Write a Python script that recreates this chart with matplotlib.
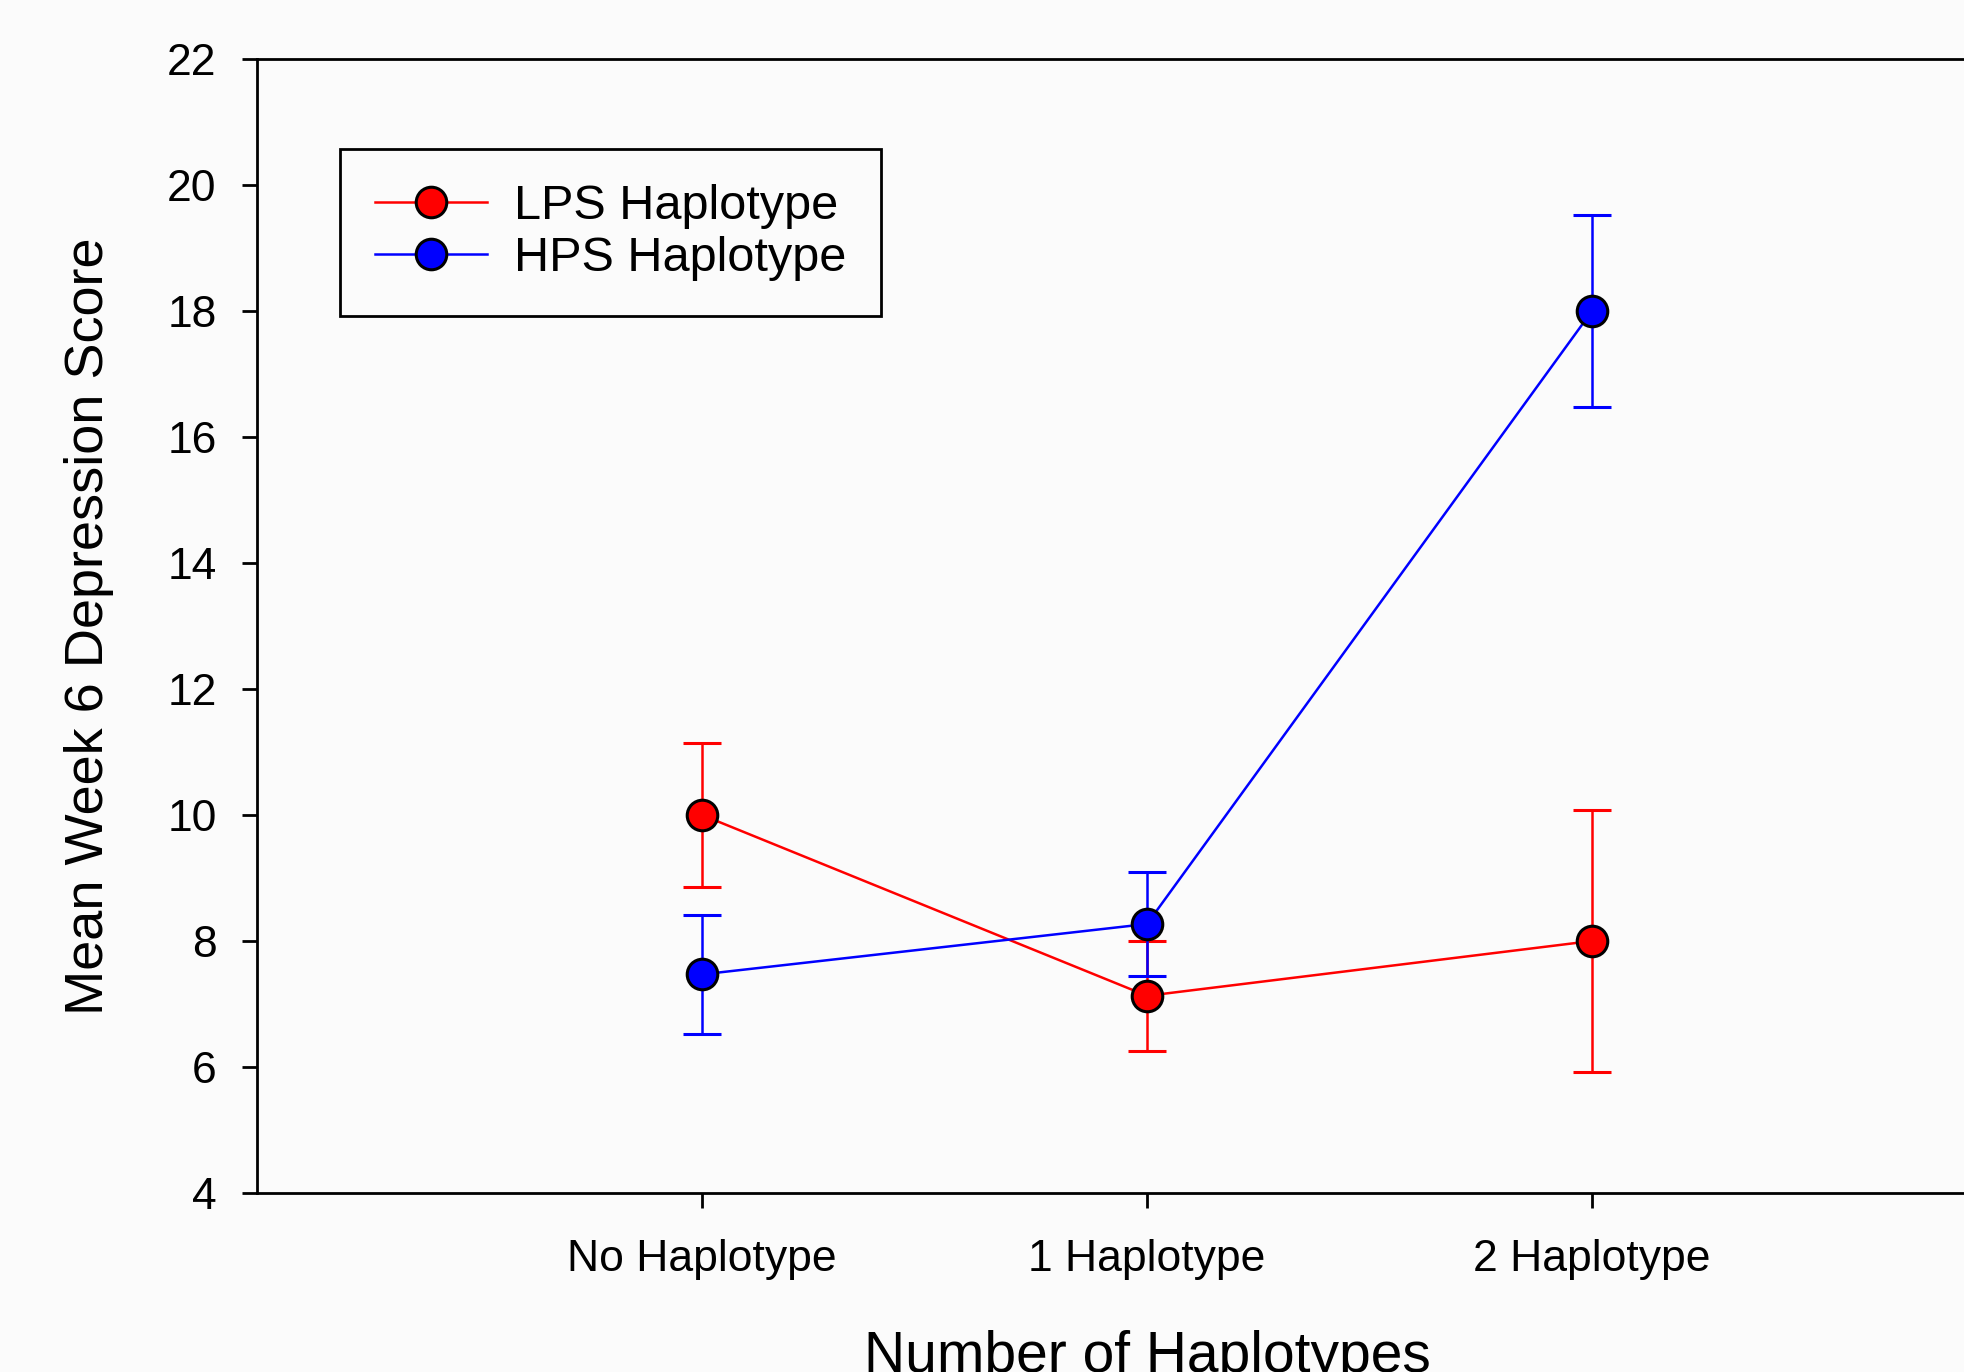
import matplotlib
matplotlib.use("Agg")
import matplotlib.pyplot as plt
from matplotlib.lines import Line2D

categories = ["No Haplotype", "1 Haplotype", "2 Haplotype"]
lps_mean = [10.0, 7.13, 8.0]
lps_err = [1.14, 0.87, 2.08]
hps_mean = [7.47, 8.27, 18.0]
hps_err = [0.95, 0.83, 1.53]
yticks = [4, 6, 8, 10, 12, 14, 16, 18, 20, 22]

plt.rcParams['font.family'] = ['Liberation Sans', 'DejaVu Sans']

W, H = 1965, 1372
fig = plt.figure(figsize=(W / 100, H / 100), dpi=100, facecolor='#fbfbfb')
ax = fig.add_axes([257 / W, (H - 1193) / H, 1780 / W, (1193 - 59) / H])
ax.set_facecolor('#fbfbfb')

x = [1, 2, 3]
style = dict(lw=1.8, capsize=14, capthick=1.8, marker='o', ms=22, mec='black',
             mew=2.2, zorder=3)
ax.errorbar(x, lps_mean, yerr=lps_err, color='#ff0000', mfc='#ff0000', **style)
ax.errorbar(x, hps_mean, yerr=hps_err, color='#0000ff', mfc='#0000ff', **style)

ax.set_xlim(0, 4)
ax.set_ylim(4, 22)
ax.set_xticks(x)
ax.set_xticklabels(categories)
ax.set_yticks(yticks)
for s in ax.spines.values():
    s.set_linewidth(2)
    s.set_color('black')
ax.tick_params(axis='both', direction='out', length=11, width=2, labelsize=32)
ax.tick_params(axis='y', pad=18)
ax.tick_params(axis='x', pad=22)

ax.set_ylabel('Mean Week 6 Depression Score', fontsize=39, labelpad=38)
ax.set_xlabel('Number of Haplotypes', fontsize=41, labelpad=36)

handles = [
    Line2D([], [], color='#ff0000', lw=1.8, marker='o', ms=22, mfc='#ff0000',
           mec='black', mew=2.2),
    Line2D([], [], color='#0000ff', lw=1.8, marker='o', ms=22, mfc='#0000ff',
           mec='black', mew=2.2),
]
leg = ax.legend(handles, ['LPS Haplotype', 'HPS Haplotype'], loc='upper left',
                bbox_to_anchor=(83 / 1780, 1 - 90 / 1134),
                fontsize=35, frameon=True, fancybox=False, edgecolor='black',
                handlelength=2.3, borderpad=0.72, labelspacing=0.15,
                handletextpad=0.55, borderaxespad=0)
leg.get_frame().set_linewidth(2)
leg.get_frame().set_facecolor('#fbfbfb')
leg.get_frame().set_alpha(1)

fig.savefig('out.png', dpi=100, facecolor=fig.get_facecolor())
